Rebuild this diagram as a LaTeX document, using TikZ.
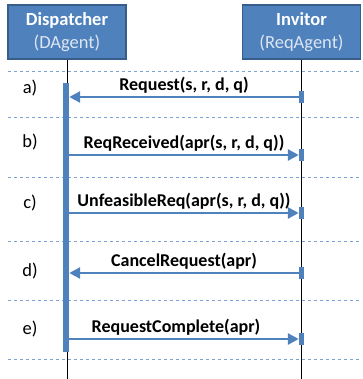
\documentclass[tikz,border=0pt]{standalone}
\usepackage{fontspec}
\setmainfont{Carlito}
\usetikzlibrary{arrows.meta}

\definecolor{agentblue}{HTML}{4F81BD}
\definecolor{agentedge}{HTML}{385D8A}
\definecolor{agentsub}{HTML}{DCE6F2}
\definecolor{sepblue}{HTML}{7DA3D6}

\begin{document}
\begin{tikzpicture}[x = 1pt, y = -1pt,
  agent/.style = {fill=agentblue, draw=agentedge, line width=1.2pt, text=white, align=center,
                  minimum width=118pt, minimum height=54pt, inner sep=0pt,
                  font=\fontsize{18.5}{23}\selectfont},
  life/.style = {black, line width=0.6pt},
  actbar/.style = {fill=agentblue, draw=none, minimum width=6pt, inner sep=0pt},
  endbar/.style = {fill=agentblue, draw=none, minimum width=5pt, minimum height=12pt, inner sep=0pt},
  msg/.style = {agentblue, line width=2.6pt, -{Triangle[length=11pt, width=11pt]}},
  lbl/.style = {above, text=black, inner sep=2pt, font=\fontsize{18}{20}\selectfont\bfseries},
  steplbl/.style = {font=\fontsize{18.5}{20}\selectfont},
  sep/.style = {sepblue, line width=0.8pt, dash pattern=on 3pt off 3pt},
]
\useasboundingbox (0,0) rectangle (362,379);

% the two agents
\node[agent] (disp) at (67,32) {\textbf{Dispatcher}\\\color{agentsub}(DAgent)};
\node[agent] (inv) at (301.5,32) {\textbf{Invitor}\\\color{agentsub}(ReqAgent)};
\coordinate (dispEnd) at (67,379);
\coordinate (invEnd) at (301.5,379);
\draw[life] (disp) -- (dispEnd);
\draw[life] (inv) -- (invEnd);

% separators between the steps
\foreach \y in {71,117,177,241,300,359}
  \draw[sep] (8,\y) -- (360,\y);

% activation of the dispatcher
\node[actbar, minimum height=269pt] (act) at (66,217.5) {};

% short bars on the invitor line
\node[endbar] (ra) at (301.5,97) {};
\node[endbar] (rb) at (301.5,155) {};
\node[endbar] (rc) at (301.5,213) {};
\node[endbar] (rd) at (301.5,273) {};
\node[endbar] (re) at (301.5,339) {};

% step names
\node[steplbl] (sa) at (30,88) {a)};
\node[steplbl] (sb) at (30,142) {b)};
\node[steplbl] (sc) at (30,203) {c)};
\node[steplbl] (sd) at (30,271) {d)};
\node[steplbl] (se) at (30,329) {e)};

% messages
\draw[msg] (ra.west) -- node[lbl] {Request(s, r, d, q)} (act.east |- ra);
\draw[msg] (act.east |- rb) -- node[lbl] {ReqReceived(apr(s, r, d, q))} (rb.west);
\draw[msg] (act.east |- rc) -- node[lbl] {UnfeasibleReq(apr(s, r, d, q))} (rc.west);
\draw[msg] (rd.west) -- node[lbl] {CancelRequest(apr)} (act.east |- rd);
\draw[msg] (act.east |- re) -- node[lbl, xshift=-8pt] {RequestComplete(apr)} (re.west);

\end{tikzpicture}
\end{document}
